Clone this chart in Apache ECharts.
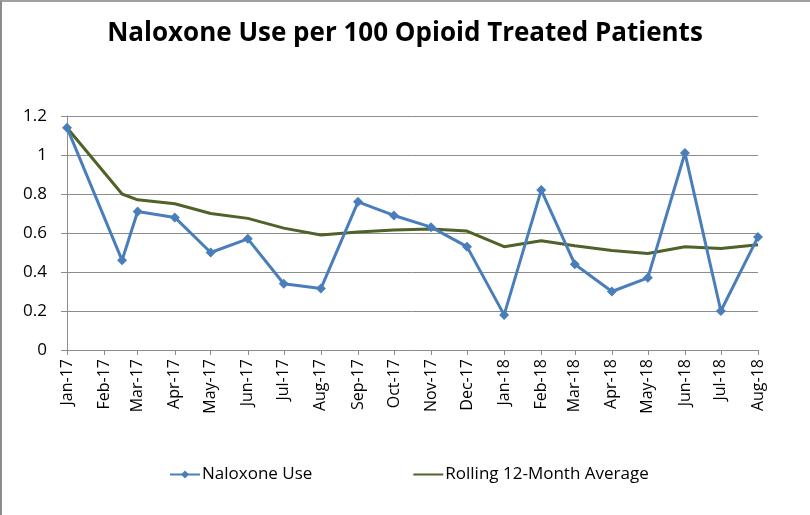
<!DOCTYPE html>
<html>
<head>
<meta charset="utf-8">
<script src="https://cdn.jsdelivr.net/npm/echarts@6/dist/echarts.min.js"></script>
<style>
html,body{margin:0;padding:0;background:#fff;}
#frame{position:absolute;left:0;top:0;width:810px;height:515px;border-left:2px solid #8c8c8c;border-top:2px solid #a0a0a0;box-sizing:border-box;pointer-events:none;z-index:5;}
#chart{position:absolute;left:0;top:0;width:810px;height:515px;}
</style>
</head>
<body>
<div id="chart"></div>
<div id="frame"></div>
<script>
const title = 'Naloxone Use per 100 Opioid Treated Patients';
const dates = ['2017-01-01','2017-02-16','2017-03-01','2017-04-01','2017-05-01','2017-06-01','2017-07-01','2017-08-01','2017-09-01','2017-10-01','2017-11-01','2017-12-01','2018-01-01','2018-02-01','2018-03-01','2018-04-01','2018-05-01','2018-06-01','2018-07-01','2018-08-01'];
const naloxoneUse = [1.14,0.46,0.71,0.68,0.50,0.57,0.34,0.315,0.76,0.69,0.63,0.53,0.18,0.82,0.44,0.30,0.37,1.01,0.20,0.58];
const rollingAvg = [1.14,0.80,0.77,0.75,0.70,0.675,0.625,0.59,0.605,0.615,0.62,0.61,0.53,0.56,0.535,0.51,0.495,0.53,0.52,0.54];
const monthNames = ['Jan','Feb','Mar','Apr','May','Jun','Jul','Aug','Sep','Oct','Nov','Dec'];
const yTicks = {min:0, max:1.2, interval:0.2};

const font = '"Open Sans", sans-serif';
const chart = echarts.init(document.getElementById('chart'), null, {renderer:'canvas'});
chart.setOption({
  animation:false,
  backgroundColor:'#fff',
  title:{text:title, left:'center', top:16, textStyle:{fontFamily:font, fontWeight:'bold', fontSize:26, color:'#000'}},
  legend:{
    bottom:27, left:164, itemGap:100, itemWidth:30, itemHeight:10,
    textStyle:{fontFamily:font, fontSize:17, color:'#000', padding:[0,0,0,-3]},
    data:[{name:'Naloxone Use'},{name:'Rolling 12-Month Average', itemStyle:{opacity:0}}]
  },
  grid:{left:67, right:52, top:116, bottom:165, containLabel:false},
  xAxis:{
    type:'time',
    min:dates[0], max:dates[dates.length-1],
    minInterval:28*86400000, maxInterval:31*86400000,
    axisLine:{show:true, lineStyle:{color:'#8c8c8c', width:1}},
    axisTick:{show:true, length:5, lineStyle:{color:'#8c8c8c'}},
    splitLine:{show:false},
    axisLabel:{
      rotate:90, fontFamily:font, fontSize:16, color:'#000', margin:9,
      showMinLabel:true, showMaxLabel:true, hideOverlap:false,
      formatter:function(v){const d=new Date(v);return monthNames[d.getMonth()]+'-'+String(d.getFullYear()).slice(2);}
    }
  },
  yAxis:{
    type:'value', min:yTicks.min, max:yTicks.max, interval:yTicks.interval,
    axisLine:{show:true, lineStyle:{color:'#8c8c8c'}},
    axisTick:{show:true, length:6, lineStyle:{color:'#8c8c8c'}},
    splitLine:{lineStyle:{color:'#8c8c8c', width:1}},
    axisLabel:{fontFamily:font, fontSize:17, color:'#000', margin:20,
      formatter:function(v){return String(Math.round(v*10)/10);}}
  },
  series:[
    {name:'Naloxone Use', type:'line', data:dates.map((d,i)=>[d,naloxoneUse[i]]),
     symbol:'diamond', symbolSize:10, showAllSymbol:true,
     lineStyle:{color:'#4a7ebb', width:3}, itemStyle:{color:'#4a7ebb'}, z:3},
    {name:'Rolling 12-Month Average', type:'line', data:dates.map((d,i)=>[d,rollingAvg[i]]),
     symbol:'none', lineStyle:{color:'#4f6228', width:3}, itemStyle:{color:'#4f6228'}, z:2}
  ]
});
</script>
</body>
</html>
